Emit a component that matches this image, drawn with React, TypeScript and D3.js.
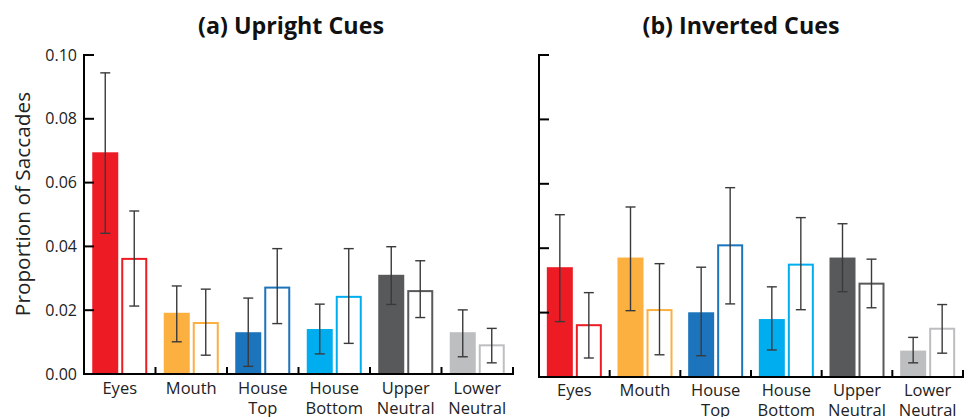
import React from "react";
import * as d3 from "d3";

const categories = ["Eyes", "Mouth", "House Top", "House Bottom", "Upper Neutral", "Lower Neutral"];
const colors = ["#ED1C24", "#FBB040", "#1C75BC", "#00AEEF", "#58595B", "#BCBEC0"];
const yTicks = [0, 0.02, 0.04, 0.06, 0.08, 0.1];

// Upright cues: filled (valid) and open bars, with error bar low/high
const uprightFilled = [0.0695, 0.0192, 0.0131, 0.0141, 0.0311, 0.0131];
const uprightFilledLo = [0.0441, 0.0101, 0.0024, 0.0063, 0.0218, 0.0054];
const uprightFilledHi = [0.0944, 0.0276, 0.0238, 0.0219, 0.0399, 0.0201];
const uprightOpen = [0.0364, 0.0163, 0.0274, 0.0245, 0.0263, 0.0093];
const uprightOpenLo = [0.0213, 0.0059, 0.0158, 0.0096, 0.0177, 0.0035];
const uprightOpenHi = [0.0511, 0.0266, 0.0393, 0.0393, 0.0355, 0.0143];

// Inverted cues
const invertedFilled = [0.0341, 0.0371, 0.0201, 0.018, 0.0371, 0.0082];
const invertedFilledLo = [0.0172, 0.0206, 0.0066, 0.0084, 0.0265, 0.0044];
const invertedFilledHi = [0.0504, 0.0528, 0.0341, 0.028, 0.0476, 0.0123];
const invertedOpen = [0.0164, 0.0211, 0.0412, 0.0352, 0.0293, 0.0153];
const invertedOpenLo = [0.0059, 0.0069, 0.0227, 0.0209, 0.0215, 0.0074];
const invertedOpenHi = [0.0262, 0.0352, 0.0588, 0.0495, 0.0366, 0.0225];

const FONT = "'Open Sans', 'Noto Sans', sans-serif";

type PanelProps = {
  title: string;
  titleX: number;
  titleW: number;
  x0: number;
  x1: number;
  yBase: number;
  yTop: number;
  showLabels: boolean;
  filled: number[];
  filledLo: number[];
  filledHi: number[];
  open: number[];
  openLo: number[];
  openHi: number[];
};

function Panel(p: PanelProps) {
  const x = d3.scaleBand<string>().domain(categories).range([p.x0, p.x1]);
  const y = d3.scaleLinear().domain([0, 0.1]).range([p.yBase, p.yTop]);
  const bw = 26;
  const gap = 3;
  const errCol = "#3a3a3a";
  const cap = 5;
  return (
    <g>
      <text
        x={p.titleX}
        y={34}
        textAnchor="middle"
        fontFamily={FONT}
        fontWeight={700}
        fontSize={24}
        fill="#111"
        textLength={p.titleW}
        lengthAdjust="spacingAndGlyphs"
      >
        {p.title}
      </text>
      {categories.map((c, i) => {
        const cx = (x(c) as number) + x.bandwidth() / 2;
        const fx = cx - gap / 2 - bw;
        const ox = cx + gap / 2;
        const fxc = fx + bw / 2;
        const oxc = ox + bw / 2;
        const words = c.split(" ");
        return (
          <g key={c}>
            <rect x={fx} y={y(p.filled[i])} width={bw} height={p.yBase - y(p.filled[i])} fill={colors[i]} />
            <rect
              x={ox + 1}
              y={y(p.open[i]) + 1}
              width={bw - 2}
              height={p.yBase - y(p.open[i]) - 1}
              fill="#fff"
              stroke={colors[i]}
              strokeWidth={2}
            />
            {[
              [fxc, p.filledLo[i], p.filledHi[i]],
              [oxc, p.openLo[i], p.openHi[i]],
            ].map(([ex, lo, hi], k) => (
              <g key={k} stroke={errCol} strokeWidth={1.4}>
                <line x1={ex} x2={ex} y1={y(lo)} y2={y(hi)} />
                <line x1={ex - cap} x2={ex + cap} y1={y(lo)} y2={y(lo)} />
                <line x1={ex - cap} x2={ex + cap} y1={y(hi)} y2={y(hi)} />
              </g>
            ))}
            {words.map((w, j) => (
              <text key={j} x={cx} y={394 + j * 20 + (p.showLabels ? 0 : 2)} textAnchor="middle" fontFamily={FONT} fontSize={16.5} fill="#222">
                {w}
              </text>
            ))}
            <line x1={(x(c) as number) + x.bandwidth()} x2={(x(c) as number) + x.bandwidth()} y1={p.yBase} y2={p.yBase - 7} stroke="#000" strokeWidth={2} />
          </g>
        );
      })}
      <line x1={p.x0} x2={p.x1 + 1} y1={p.yBase} y2={p.yBase} stroke="#000" strokeWidth={2} />
      <line x1={p.x0} x2={p.x0} y1={p.yTop - 1} y2={p.yBase + 1} stroke="#000" strokeWidth={2} />
      {yTicks.map((t) => (
        <g key={t}>
          <line x1={p.x0} x2={p.x0 + 10} y1={y(t)} y2={y(t)} stroke="#000" strokeWidth={2} />
          {p.showLabels && (
            <text x={p.x0 - 7} y={y(t) + 5.5} textAnchor="end" fontFamily={FONT} fontSize={16} fill="#222">
              {d3.format(".2f")(t)}
            </text>
          )}
        </g>
      ))}
    </g>
  );
}

export default function App() {
  return (
    <svg width={971} height={417} style={{ position: "absolute", left: 0, top: 0, background: "#fff" }}>
      <rect width={971} height={417} fill="#fff" />
      <text
        transform="translate(30,204) rotate(-90)"
        textAnchor="middle"
        fontFamily={FONT}
        fontSize={20.8}
        fill="#222"
      >
        Proportion of Saccades
      </text>
      <Panel
        title="(a) Upright Cues"
        titleX={291}
        titleW={186}
        x0={84}
        x1={513}
        yBase={374}
        yTop={55}
        showLabels={true}
        filled={uprightFilled}
        filledLo={uprightFilledLo}
        filledHi={uprightFilledHi}
        open={uprightOpen}
        openLo={uprightOpenLo}
        openHi={uprightOpenHi}
      />
      <Panel
        title="(b) Inverted Cues"
        titleX={741}
        titleW={197}
        x0={539}
        x1={963}
        yBase={377}
        yTop={55}
        showLabels={false}
        filled={invertedFilled}
        filledLo={invertedFilledLo}
        filledHi={invertedFilledHi}
        open={invertedOpen}
        openLo={invertedOpenLo}
        openHi={invertedOpenHi}
      />
    </svg>
  );
}
